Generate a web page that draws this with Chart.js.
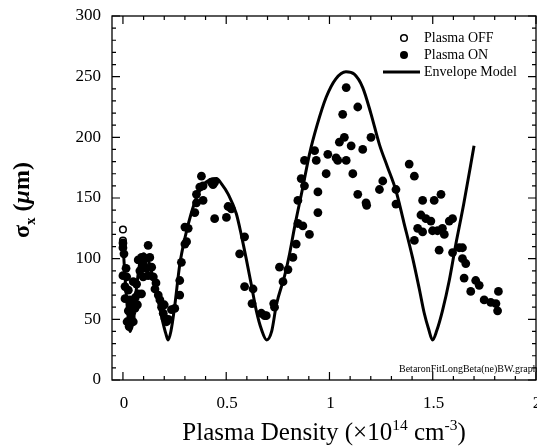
<!DOCTYPE html>
<html>
<head>
<meta charset="utf-8">
<script src="https://cdn.jsdelivr.net/npm/chart.js@4.4.1/dist/chart.umd.min.js"></script>
<style>
  html, body { margin: 0; padding: 0; background: #fff; }
  canvas { display: block; }
</style>
</head>
<body>
<canvas id="envChart" width="537" height="448"></canvas>
<script>
// plasma OFF shots (open circles), all at zero density
const offX = [0, 0, 0];
const offY = [124, 115, 110];

// plasma ON shots
const onX = [0.0, 0.0, 0.005, 0.0, 0.018, 0.01, 0.026, 0.01, 0.034, 0.026, 0.042, 0.034, 0.05, 0.042, 0.058,
  0.05, 0.066, 0.074, 0.09, 0.082, 0.098, 0.074, 0.09, 0.106, 0.122, 0.13, 0.114, 0.139, 0.122, 0.147,
  0.155, 0.171, 0.179, 0.187, 0.195, 0.203, 0.211, 0.235, 0.251, 0.275, 0.275, 0.283, 0.3, 0.3,
  0.02, 0.03, 0.04, 0.06, 0.07, 0.015, 0.1, 0.16, 0.2, 0.22,
  0.308, 0.316, 0.348, 0.356, 0.372, 0.388, 0.38, 0.356, 0.388, 0.428, 0.444, 0.436, 0.444, 0.501, 0.509,
  0.525, 0.589, 0.565, 0.589, 0.63, 0.625, 0.67, 0.694, 0.686, 0.734, 0.73, 0.758, 0.775, 0.799, 0.823,
  0.839, 0.847, 0.871, 0.903, 0.847, 0.863, 0.879, 0.879, 0.928, 0.936, 0.944, 0.944, 0.984, 0.992,
  1.032, 1.04, 1.048, 1.072, 1.064, 1.081, 1.081, 1.105, 1.113, 1.137, 1.161, 1.137, 1.177, 1.18,
  1.201, 1.242, 1.258, 1.322, 1.322, 1.386, 1.411, 1.451, 1.507, 1.54, 1.443, 1.467, 1.491, 1.427,
  1.451, 1.499, 1.523, 1.547, 1.556, 1.58, 1.596, 1.411, 1.531, 1.596, 1.628, 1.644, 1.644, 1.66,
  1.652, 1.708, 1.725, 1.684, 1.749, 1.781, 1.806, 1.814, 1.818];
const onY = [113, 109, 104, 86, 85, 77, 74, 67, 66, 57, 55, 49, 48, 62, 59,
  81, 79, 71, 71, 90, 85, 99, 101, 100, 111, 101, 92, 93, 86, 85,
  75, 70, 66, 60, 55, 51, 48, 58, 59, 70, 82, 97, 112, 126,
  48, 44, 52, 68, 62, 92, 95, 80, 62, 50,
  114, 125, 138, 146, 159, 160, 168, 153, 148, 163, 163, 161, 133, 134, 143,
  141, 118, 104, 77, 75, 63, 55, 53, 53, 60, 63, 93, 81, 91, 101,
  112, 129, 127, 120, 148, 166, 160, 181, 189, 181, 155, 138, 170, 186,
  183, 181, 196, 200, 219, 241, 181, 193, 170, 225, 190, 153, 146, 144,
  200, 157, 164, 157, 145, 178, 168, 148, 148, 153, 136, 133, 131, 125,
  122, 123, 123, 125, 120, 131, 133, 115, 107, 105, 109, 109, 100, 96,
  84, 82, 78, 73, 66, 64, 63, 57, 73];

// envelope model curve
const modelX = [0, 0.01, 0.022, 0.034, 0.048, 0.065, 0.08, 0.098, 0.12, 0.145, 0.165, 0.19, 0.208, 0.219,
  0.232, 0.25, 0.275, 0.3, 0.33, 0.36, 0.39, 0.42, 0.453, 0.48, 0.51, 0.549, 0.575, 0.598, 0.62, 0.646,
  0.67, 0.696, 0.72, 0.743, 0.783, 0.807, 0.831, 0.87, 0.903, 0.94, 0.984, 1.03, 1.08, 1.12, 1.161,
  1.2, 1.242, 1.28, 1.322, 1.36, 1.402, 1.435, 1.459, 1.48, 1.499, 1.52, 1.547, 1.58, 1.612, 1.65, 1.7];
const modelY = [112, 85, 58, 40, 50, 75, 95, 104, 100, 85, 70, 50, 38, 33,
  40, 60, 95, 117, 137, 152, 161, 165, 166, 161, 153, 137, 118, 99, 80, 57,
  42, 33, 40, 62, 86, 104, 126, 158, 186, 210, 233, 248, 254, 252, 241,
  220, 194, 176, 156, 130, 101, 75, 55, 42, 33, 41, 57, 82, 112, 145, 193];

const xTicks = [0, 0.5, 1, 1.5, 2];
const xTickLabels = ['0', '0.5', '1', '1.5', '2'];
const yTicks = [0, 50, 100, 150, 200, 250, 300];

function pts(xs, ys) {
    return xs.map((x, i) => ({ x: x, y: ys[i] }));
}

const serif = '"Liberation Serif", "Times New Roman", serif';

const framePlugin = {
    id: 'frame',
    afterDraw(chart) {
        const ctx = chart.ctx;
        const a = chart.chartArea;
        const xs = chart.scales.x;
        const ys = chart.scales.y;
        ctx.save();
        ctx.strokeStyle = '#000';
        ctx.fillStyle = '#000';
        ctx.lineWidth = 1.3;
        ctx.strokeRect(a.left, a.top, a.right - a.left, a.bottom - a.top);

        // inward ticks on all four sides
        ctx.lineWidth = 1.2;
        ctx.beginPath();
        for (let v = 0; v <= 20; v++) {
            const px = xs.getPixelForValue(v / 10);
            const len = v % 5 === 0 ? 8 : 4;
            ctx.moveTo(px, a.bottom); ctx.lineTo(px, a.bottom - len);
            ctx.moveTo(px, a.top); ctx.lineTo(px, a.top + len);
        }
        for (let v = 0; v <= 300; v += 10) {
            const py = ys.getPixelForValue(v);
            const len = v % 50 === 0 ? 8 : 4;
            ctx.moveTo(a.left, py); ctx.lineTo(a.left + len, py);
            ctx.moveTo(a.right, py); ctx.lineTo(a.right - len, py);
        }
        ctx.stroke();

        // tick labels
        ctx.font = '17px ' + serif;
        ctx.textAlign = 'right';
        ctx.textBaseline = 'middle';
        yTicks.forEach(v => ctx.fillText(String(v), a.left - 11, ys.getPixelForValue(v)));
        ctx.textAlign = 'center';
        ctx.textBaseline = 'alphabetic';
        xTicks.forEach((v, i) => ctx.fillText(xTickLabels[i], xs.getPixelForValue(v) + 1, 408));

        // x axis title with superscripts
        const parts = [
            ['Plasma Density (\u00d710', 25, 0],
            ['14', 15.5, -10],
            [' cm', 25, 0],
            ['-3', 15.5, -10],
            [')', 25, 0]
        ];
        let total = 0;
        parts.forEach(p => { ctx.font = p[1] + 'px ' + serif; total += ctx.measureText(p[0]).width; });
        let cx = (a.left + a.right) / 2 - total / 2;
        ctx.textAlign = 'left';
        parts.forEach(p => {
            ctx.font = p[1] + 'px ' + serif;
            ctx.fillText(p[0], cx, 440 + p[2]);
            cx += ctx.measureText(p[0]).width;
        });

        // y axis title, rotated
        ctx.save();
        ctx.translate(29, 200);
        ctx.rotate(-Math.PI / 2);
        const yparts = [
            ['\u03c3', 'bold 24px ', 0],
            ['x', 'bold 15px ', 6],
            [' (', 'bold 24px ', 0],
            ['\u03bc', 'italic bold 24px ', 0],
            ['m)', 'bold 24px ', 0]
        ];
        let yt = 0;
        yparts.forEach(p => { ctx.font = p[1] + serif; yt += ctx.measureText(p[0]).width; });
        let ly = -yt / 2;
        yparts.forEach(p => {
            ctx.font = p[1] + serif;
            ctx.fillText(p[0], ly, p[2]);
            ly += ctx.measureText(p[0]).width;
        });
        ctx.restore();

        // legend
        ctx.font = '14px ' + serif;
        ctx.textBaseline = 'middle';
        ctx.lineWidth = 1.5;
        ctx.beginPath();
        ctx.arc(404, 38, 3.3, 0, Math.PI * 2);
        ctx.stroke();
        ctx.beginPath();
        ctx.arc(404, 55, 4, 0, Math.PI * 2);
        ctx.fill();
        ctx.lineWidth = 3;
        ctx.beginPath();
        ctx.moveTo(383, 72); ctx.lineTo(420, 72);
        ctx.stroke();
        ctx.fillText('Plasma OFF', 424, 38);
        ctx.fillText('Plasma ON', 424, 55);
        ctx.fillText('Envelope Model', 424, 72);

        // file tag
        ctx.font = '10px ' + serif;
        ctx.textBaseline = 'alphabetic';
        ctx.fillText('BetaronFitLongBeta(ne)BW.graph', 399, 372);
        ctx.restore();
    }
};

document.addEventListener('DOMContentLoaded', function() {
    const ctx = document.getElementById('envChart').getContext('2d');

    const config = {
        type: 'scatter',
        data: {
            datasets: [
                {
                    label: 'Envelope Model',
                    data: pts(modelX, modelY),
                    showLine: true,
                    borderColor: '#000',
                    borderWidth: 3,
                    pointRadius: 0,
                    cubicInterpolationMode: 'monotone',
                    fill: false
                },
                {
                    label: 'Plasma ON',
                    data: pts(onX, onY),
                    backgroundColor: '#000',
                    borderColor: '#000',
                    borderWidth: 0,
                    pointRadius: 4.4
                },
                {
                    label: 'Plasma OFF',
                    data: pts(offX, offY),
                    backgroundColor: '#fff',
                    borderColor: '#000',
                    borderWidth: 1.5,
                    pointRadius: 3.3
                }
            ]
        },
        options: {
            responsive: false,
            animation: false,
            devicePixelRatio: 1,
            layout: { autoPadding: false, padding: { top: 16, right: 1, left: 0, bottom: 0 } },
            plugins: {
                legend: { display: false },
                tooltip: { enabled: false }
            },
            scales: {
                x: {
                    type: 'linear',
                    min: -0.053,
                    max: 2.0,
                    ticks: { display: false },
                    grid: { display: false, drawTicks: false },
                    border: { display: false },
                    afterFit: function(scale) { scale.height = 68; }
                },
                y: {
                    type: 'linear',
                    min: 0,
                    max: 300,
                    ticks: { display: false },
                    grid: { display: false, drawTicks: false },
                    border: { display: false },
                    afterFit: function(scale) { scale.width = 112; }
                }
            }
        },
        plugins: [framePlugin]
    };

    new Chart(ctx, config);
});
</script>
</body>
</html>
